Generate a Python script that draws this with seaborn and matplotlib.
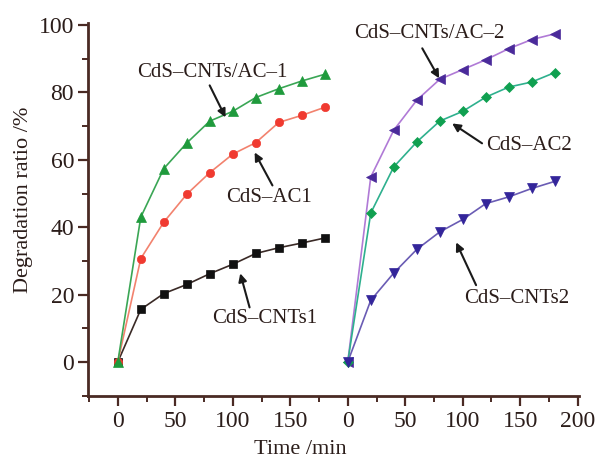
import numpy as np
import pandas as pd
import seaborn as sns
import matplotlib.pyplot as plt
from matplotlib.ticker import MultipleLocator, FixedLocator, FixedFormatter

# sampling times (min), same for every curve
time_min = [0, 20, 40, 60, 80, 100, 120, 140, 160, 180]

# left group
cnts1 = [0, 15.6, 20.3, 23.0, 26.2, 29.0, 32.2, 33.9, 35.3, 36.8]
cnts_ac1 = [0, 43.0, 57.4, 65.0, 71.5, 74.4, 78.5, 81.1, 83.4, 85.4]
ac1 = [0, 30.7, 41.5, 49.8, 56.2, 61.7, 65.1, 71.1, 73.2, 75.6]

# right group
cnts_ac2 = [0, 54.9, 68.8, 77.7, 83.9, 86.8, 89.7, 93.0, 95.7, 97.4]
ac2 = [0, 44.2, 57.9, 65.3, 71.5, 74.4, 78.6, 81.6, 83.1, 85.9]
cnts2 = [0, 18.3, 26.4, 33.4, 38.6, 42.3, 47.0, 49.0, 51.5, 53.6]

x_tick_labels = ['0', '50', '100', '150', '0', '50', '100', '150', '200']

OFFSET = 200  # right panel is drawn on the same axis, shifted

sns.set_theme(style='ticks')
plt.rcParams['font.family'] = ['Liberation Serif', 'DejaVu Serif']

ink = '#2b1d1a'
spine_col = '#4a2a24'

fig = plt.figure(figsize=(5.98, 4.59), dpi=100)
ax = fig.add_axes([0.147, 0.138, 0.821, 0.8125])

series = [
    # values, shift, line colour, marker, marker colour, size
    (cnts1, 0, '#3a2a26', 's', '#111111', 5.5),
    (ac1, 0, '#f2826e', 'o', '#f03a30', 6.0),
    (cnts_ac1, 0, '#3aa655', '^', '#1f9a3c', 6.5),
    (cnts_ac2, OFFSET, '#b07ad6', '<', '#4a2a9a', 6.5),
    (ac2, OFFSET, '#2eb08e', 'D', '#10a050', 5.0),
    (cnts2, OFFSET, '#6a5cb4', 'v', '#33259a', 6.5),
]

for vals, shift, lc, mk, mc, ms in series:
    df = pd.DataFrame({'t': np.array(time_min) + shift, 'v': vals})
    sns.lineplot(data=df, x='t', y='v', ax=ax, color=lc, lw=1.2,
                 marker=mk, markersize=ms, markerfacecolor=mc,
                 markeredgecolor=mc, markeredgewidth=0.5, zorder=3)

ax.set_xlim(-26, 401)
ax.set_ylim(-10, 100.7)

major_x = [0, 50, 100, 150, OFFSET, OFFSET + 50, OFFSET + 100, OFFSET + 150, OFFSET + 200]
ax.xaxis.set_major_locator(FixedLocator(major_x))
ax.xaxis.set_major_formatter(FixedFormatter(x_tick_labels))
ax.xaxis.set_minor_locator(MultipleLocator(25))
ax.yaxis.set_minor_locator(MultipleLocator(10))
ax.set_yticks([0, 20, 40, 60, 80, 100])

ax.tick_params(which='major', direction='out', length=7, width=1.6,
               color=spine_col, labelsize=17, labelcolor=ink)
ax.tick_params(which='minor', direction='out', length=4, width=1.4,
               color=spine_col)
ax.tick_params(axis='y', which='major', pad=3)
ax.tick_params(axis='x', which='major', pad=4)

sns.despine(ax=ax)
for s in ['left', 'bottom']:
    ax.spines[s].set_color(spine_col)
    ax.spines[s].set_linewidth(2)

ax.set_xlabel('Time /min', fontsize=16, color=ink)
ax.set_ylabel('Degradation ratio /%', fontsize=16, color=ink)
ax.xaxis.set_label_coords(0.432, -0.118)
ax.yaxis.set_label_coords(-0.112, 0.525)

# labels: text, text position, arrow tail, arrow head (data coords)
notes = [
    ('CdS–CNTs/AC–1', (82.5, 86.0), (79.9, 82.1), (93.7, 72.6)),
    ('CdS–AC1', (131.9, 48.9), (134.5, 52.4), (119.0, 62.2)),
    ('CdS–CNTs1', (127.6, 13.0), (114.6, 16.2), (106.5, 26.3)),
    ('CdS–CNTs/AC–2', (270.8, 97.5), (264.8, 93.1), (279.5, 84.2)),
    ('CdS–AC2', (357.6, 64.3), (316.8, 64.9), (290.8, 70.8)),
    ('CdS–CNTs2', (347.2, 18.9), (311.6, 22.8), (294.3, 35.5)),
]
for label, tpos, tail, head in notes:
    ax.text(tpos[0], tpos[1], label, fontsize=15, color=ink,
            ha='center', va='center', zorder=5)
    ax.annotate('', xy=head, xytext=tail,
                arrowprops=dict(arrowstyle='-|>', color='#1a1a1a', lw=1.5,
                                mutation_scale=12, shrinkA=0, shrinkB=0),
                zorder=5)

fig.savefig('out.png', dpi=100)
